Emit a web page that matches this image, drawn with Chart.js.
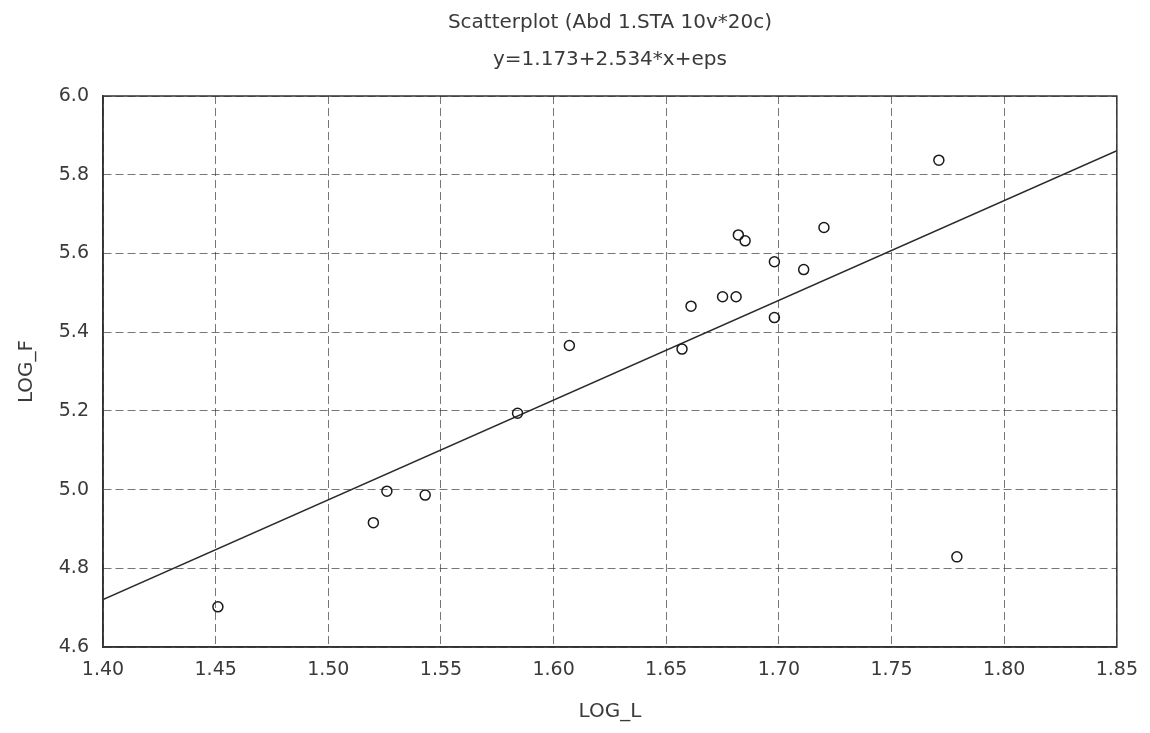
<!DOCTYPE html>
<html>
<head>
<meta charset="utf-8">
<script src="https://cdn.jsdelivr.net/npm/chart.js@4/dist/chart.umd.min.js"></script>
<style>
  html, body { margin: 0; padding: 0; background: #fff; }
  #wrap { width: 1150px; height: 733px; position: relative; }
</style>
</head>
<body>
<div id="wrap"><canvas id="scatter"></canvas></div>
<script>
// LOG_L (x) and LOG_F (y) per case
const logL = [1.451, 1.520, 1.526, 1.543, 1.584, 1.607, 1.657, 1.661, 1.675, 1.681,
              1.682, 1.685, 1.698, 1.698, 1.711, 1.720, 1.771, 1.779];
const logF = [4.702, 4.916, 4.996, 4.986, 5.194, 5.366, 5.357, 5.466, 5.490, 5.490,
              5.647, 5.632, 5.579, 5.437, 5.559, 5.666, 5.837, 4.829];

// fitted line from the subtitle
const intercept = 1.173;
const slope = 2.534;
const xRange = [1.40, 1.85];
const yRange = [4.6, 6.0];

const titleLines = ['Scatterplot (Abd 1.STA 10v*20c)', 'y=1.173+2.534*x+eps'];

const points = logL.map((x, i) => ({ x: x, y: logF[i] }));
const fitLine = xRange.map(x => ({ x: x, y: intercept + slope * x }));

const textColor = '#3a3a3a';
const fontFamily = '"DejaVu Sans", Arial, sans-serif';

// frame around the plot area
const frame = {
  id: 'frame',
  afterDraw(chart) {
    const { ctx, chartArea: a } = chart;
    ctx.save();
    ctx.strokeStyle = '#333';
    ctx.lineWidth = 1.5;
    ctx.setLineDash([]);
    ctx.strokeRect(a.left, a.top, a.right - a.left, a.bottom - a.top);
    ctx.restore();
  }
};

new Chart(document.getElementById('scatter'), {
  type: 'scatter',
  data: {
    datasets: [
      {
        label: 'cases',
        data: points,
        pointStyle: 'circle',
        pointRadius: 5,
        pointBorderWidth: 1.5,
        pointBorderColor: '#1a1a1a',
        pointBackgroundColor: 'rgba(0,0,0,0)',
        order: 1,
      },
      {
        type: 'line',
        label: 'fit',
        data: fitLine,
        borderColor: '#2a2a2a',
        borderWidth: 1.4,
        pointRadius: 0,
        fill: false,
        order: 2,
      }
    ]
  },
  options: {
    responsive: true,
    maintainAspectRatio: false,
    animation: false,
    layout: { padding: { left: 0, right: 32, top: 0, bottom: 0 } },
    plugins: {
      legend: { display: false },
      tooltip: { enabled: false },
      title: {
        display: true,
        fullSize: false,
        text: titleLines,
        color: textColor,
        font: { family: fontFamily, size: 20, weight: 'normal', lineHeight: 1.85 },
        padding: { top: 4.5, bottom: 17.5 },
      }
    },
    scales: {
      x: {
        type: 'linear',
        min: xRange[0],
        max: xRange[1],
        border: { display: true, color: '#333', width: 1.5, dash: [8, 4] },
        grid: { color: 'rgba(60,60,60,0.7)', lineWidth: 1, drawTicks: false },
        ticks: {
          stepSize: 0.05,
          padding: 12,
          color: textColor,
          font: { family: fontFamily, size: 19 },
          maxRotation: 0,
          callback: v => v.toFixed(2),
        },
        title: {
          display: true,
          text: 'LOG_L',
          color: textColor,
          font: { family: fontFamily, size: 20 },
          padding: { top: 0, bottom: 9 },
        },
        afterFit(scale) { scale.height = 86; },
      },
      y: {
        type: 'linear',
        min: yRange[0],
        max: yRange[1],
        border: { display: true, color: '#333', width: 1.5, dash: [8, 4] },
        grid: { color: 'rgba(60,60,60,0.7)', lineWidth: 1, drawTicks: false },
        ticks: {
          stepSize: 0.2,
          padding: 14,
          color: textColor,
          font: { family: fontFamily, size: 19 },
          callback: v => v.toFixed(1),
        },
        title: {
          display: true,
          text: 'LOG_F',
          color: textColor,
          font: { family: fontFamily, size: 20 },
          padding: { top: 15, bottom: 0 },
        },
        afterFit(scale) { scale.width = 103; },
      }
    }
  },
  plugins: [frame]
});
</script>
</body>
</html>
